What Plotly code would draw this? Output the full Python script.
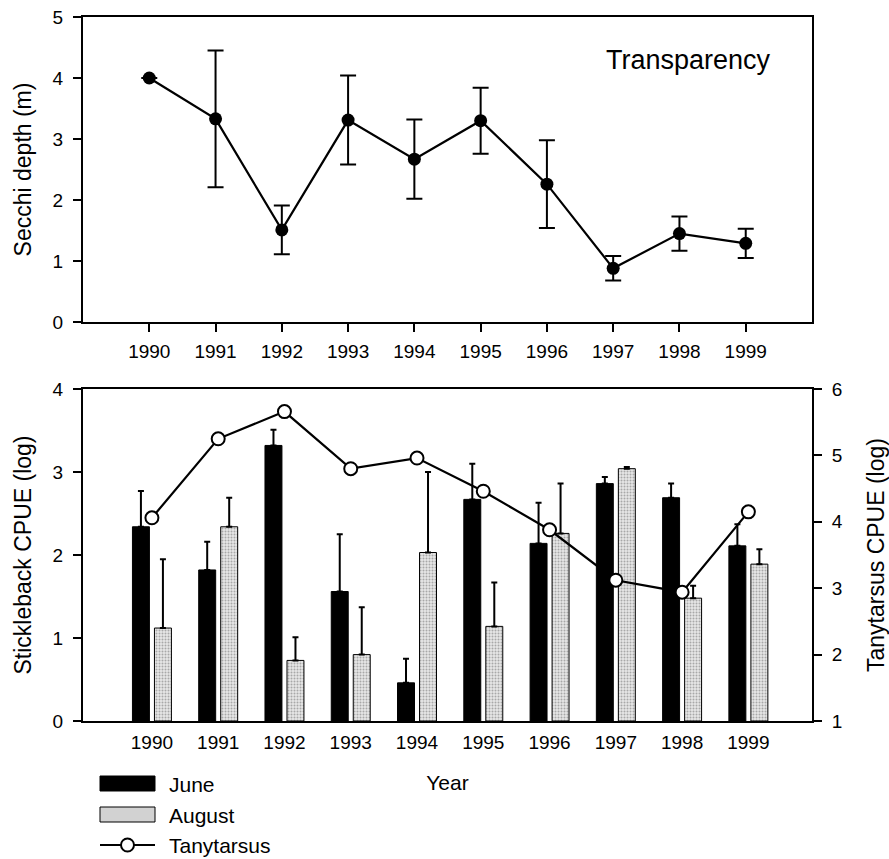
import plotly.graph_objects as go

# ---------------- data ----------------
years = [1990, 1991, 1992, 1993, 1994, 1995, 1996, 1997, 1998, 1999]

secchi = [4.00, 3.33, 1.51, 3.31, 2.67, 3.30, 2.26, 0.88, 1.45, 1.29]
secchi_err = [None, 1.12, 0.40, 0.73, 0.65, 0.54, 0.72, 0.20, 0.28, 0.24]

june = [2.34, 1.82, 3.32, 1.56, 0.46, 2.67, 2.14, 2.86, 2.69, 2.11]
june_err = [0.43, 0.34, 0.19, 0.69, 0.29, 0.43, 0.49, 0.08, 0.17, 0.26]

august = [1.12, 2.34, 0.73, 0.80, 2.03, 1.14, 2.26, 3.04, 1.48, 1.89]
august_err = [0.83, 0.35, 0.28, 0.57, 0.97, 0.53, 0.60, 0.02, 0.15, 0.18]

tanytarsus = [4.06, 5.25, 5.66, 4.80, 4.96, 4.46, 3.88, 3.12, 2.94, 4.15]

tick_years = [str(y) for y in years]

# ---------------- layout geometry ----------------
W, H = 889, 859
L, R, T, B = 83, 77, 17, 138
PW, PH = W - L - R, H - T - B

def px_x(px):
    return (px - L) / PW

def px_y(py):
    return (H - B - py) / PH

FONT = "Liberation Sans, Arial, Helvetica, sans-serif"
zeros = [0] * len(years)

fig = go.Figure()

# Top panel: Secchi depth
fig.add_trace(go.Scatter(
    x=years, y=secchi, mode="lines+markers",
    line=dict(color="black", width=2.2),
    marker=dict(color="black", size=13),
    error_y=dict(type="data", array=secchi_err, symmetric=True,
                 color="black", thickness=2, width=8),
    xaxis="x", yaxis="y", showlegend=False,
))

# Bottom panel: bars
fig.add_trace(go.Bar(
    x=years, y=june, width=0.256, offset=-0.294,
    marker=dict(color="black", line=dict(color="black", width=1)),
    error_y=dict(type="data", array=june_err, arrayminus=zeros, symmetric=False,
                 color="black", thickness=2, width=3),
    xaxis="x2", yaxis="y2", name="June", showlegend=False,
))
fig.add_trace(go.Bar(
    x=years, y=august, width=0.256, offset=0.038,
    marker=dict(color="#d9d9d9", line=dict(color="black", width=1),
                pattern=dict(shape=".", size=3, solidity=0.35,
                             fgcolor="#6a6a6a", bgcolor="#e6e6e6")),
    error_y=dict(type="data", array=august_err, arrayminus=zeros, symmetric=False,
                 color="black", thickness=2, width=3),
    xaxis="x2", yaxis="y2", name="August", showlegend=False,
))
fig.add_trace(go.Scatter(
    x=years, y=tanytarsus, mode="lines+markers",
    line=dict(color="black", width=2.2),
    marker=dict(color="white", size=13, line=dict(color="black", width=2)),
    xaxis="x2", yaxis="y3", name="Tanytarsus", showlegend=False,
))

axis_common = dict(showline=True, linecolor="black", linewidth=2,
                   showgrid=False, zeroline=False, ticks="outside",
                   ticklen=8, tickwidth=2, tickcolor="black", automargin=False,
                   tickfont=dict(family=FONT, size=19, color="black"))

top_dom = [px_y(322), 1.0]
bot_dom = [0.0, px_y(389)]

fig.update_layout(
    width=W, height=H,
    margin=dict(l=L, r=R, t=T, b=B, autoexpand=False),
    paper_bgcolor="white", plot_bgcolor="white",
    font=dict(family=FONT, color="black"),
    barmode="overlay",
    xaxis=dict(**axis_common, range=[1989, 2000], tickvals=years, ticktext=tick_years,
               mirror=True, anchor="y", domain=[0, 1], ticklabelstandoff=3),
    yaxis=dict(**axis_common, range=[0, 5], dtick=1, mirror=True, domain=top_dom,
               anchor="x", ticklabelstandoff=6,
               title=dict(text="Secchi depth (m)", font=dict(size=23), standoff=15)),
    xaxis2=dict(**{k: v for k, v in axis_common.items() if k not in ("ticks", "ticklen")},
                ticks="", range=[1988.96, 1999.96], tickvals=years, ticktext=tick_years,
                mirror=True, anchor="y2", domain=[0, 1], ticklabelstandoff=3,
                title=dict(text="Year", font=dict(size=21), standoff=24)),
    yaxis2=dict(**axis_common, range=[0, 4], dtick=1, domain=bot_dom, anchor="x2",
                ticklabelstandoff=6,
                title=dict(text="Stickleback CPUE (log)", font=dict(size=23), standoff=15)),
    yaxis3=dict(**axis_common, range=[1, 6], dtick=1, overlaying="y2", side="right",
                anchor="x2", ticklabelstandoff=6,
                title=dict(text="Tanytarsus CPUE (log)", font=dict(size=23), standoff=28)),
)

# Panel label
fig.add_annotation(text="Transparency", x=px_x(688), y=px_y(60), xref="paper", yref="paper",
                   showarrow=False, font=dict(size=27, family=FONT, color="black"),
                   xanchor="center", yanchor="middle")

# Manual legend (below bottom panel)
sx0, sx1 = px_x(100), px_x(155)
fig.add_shape(type="rect", xref="paper", yref="paper", x0=sx0, x1=sx1,
              y0=px_y(791), y1=px_y(776), fillcolor="black", line=dict(color="black", width=1))
fig.add_shape(type="rect", xref="paper", yref="paper", x0=sx0, x1=sx1,
              y0=px_y(822), y1=px_y(807), fillcolor="#d2d2d2", line=dict(color="black", width=1))
fig.add_shape(type="line", xref="paper", yref="paper", x0=sx0, x1=sx1,
              y0=px_y(845), y1=px_y(845), line=dict(color="black", width=2))
fig.add_shape(type="circle", xref="paper", yref="paper",
              x0=px_x(121), x1=px_x(134), y0=px_y(851.5), y1=px_y(838.5),
              fillcolor="white", line=dict(color="black", width=2))
for label, py in [("June", 784), ("August", 815), ("Tanytarsus", 845)]:
    fig.add_annotation(text=label, x=px_x(167), y=px_y(py), xref="paper", yref="paper",
                       showarrow=False, xanchor="left", yanchor="middle",
                       font=dict(size=21, family=FONT, color="black"))

fig.write_html("out.html")
